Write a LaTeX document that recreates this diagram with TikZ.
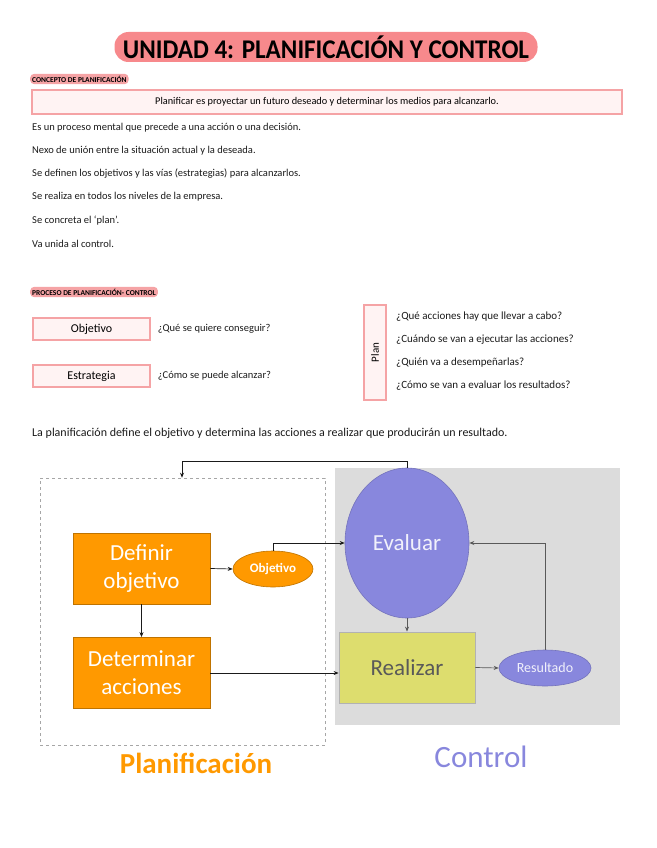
\documentclass[tikz,border=0pt]{standalone}
\usepackage{fontspec}
\setmainfont{Carlito}
\usepackage{graphicx}
\usetikzlibrary{arrows.meta,positioning,shapes.geometric}
\definecolor{cPink}{HTML}{F7898C}
\definecolor{cRose}{HTML}{F5A3A5}
\definecolor{cBlush}{HTML}{FFF3F3}
\definecolor{cOrange}{HTML}{FF9900}
\definecolor{cPeri}{HTML}{8887DD}
\definecolor{cLime}{HTML}{DDDD6E}
\definecolor{cGrey}{HTML}{DCDCDC}
\definecolor{cInk}{HTML}{1A1A1A}
\tikzset{
  >={Stealth[length=5pt,width=4pt]},
  note/.style={anchor=west,inner sep=0pt,text=cInk,font=\fontsize{10.5}{12}\selectfont},
  ask/.style={note,font=\fontsize{11}{13}\selectfont},
  tag/.style={anchor=west,fill=cRose,rounded corners=4pt,inner sep=2pt,
              font=\bfseries\fontsize{7.5}{8}\selectfont},
  pbox/.style={draw=cRose,fill=cBlush,line width=1.2pt,inner sep=0pt},
  obox/.style={draw=cOrange!75!black,fill=cOrange,text=white,align=center,line width=0.8pt,
               minimum width=137pt,minimum height=71pt,font=\fontsize{23}{28}\selectfont},
  oval/.style={ellipse,inner sep=0pt,line width=0.6pt},
  ar/.style={->,line width=0.7pt,cInk},
  gar/.style={->,line width=0.7pt,gray!70!black},
}

\begin{document}
\begin{tikzpicture}[x=1pt,y=-1pt]
\useasboundingbox (0,0) rectangle (656,848);
% titulo
\node[fill=cPink,rounded corners=14pt,minimum width=423pt,minimum height=30pt,inner sep=0pt] (title) at (326,47)
  {\scalebox{0.93}[1]{\bfseries\fontsize{27}{30}\selectfont UNIDAD 4: PLANIFICACIÓN Y CONTROL}};

% concepto
\node[tag] (tconc) at (30,79) {CONCEPTO DE PLANIFICACIÓN};
\node[pbox,minimum width=590pt,minimum height=24pt] (def) at (327,102)
  {\fontsize{10.3}{12}\selectfont Planificar es proyectar un futuro deseado y determinar los medios para alcanzarlo.};
\node[note] (n1) at (32,128) {Es un proceso mental que precede a una acción o una decisión.};
\node[note] (n2) at (32,151) {Nexo de unión entre la situación actual y la deseada.};
\node[note] (n3) at (32,174) {Se definen los objetivos y las vías (estrategias) para alcanzarlos.};
\node[note] (n4) at (32,197) {Se realiza en todos los niveles de la empresa.};
\node[note] (n5) at (32,221) {Se concreta el `plan'.};
\node[note] (n6) at (32,244) {Va unida al control.};

% proceso
\node[tag] (tproc) at (30,292) {PROCESO DE PLANIFICACIÓN- CONTROL};
\node[pbox,minimum width=117pt,minimum height=22pt] (obj) at (91.5,329) {\fontsize{12}{14}\selectfont Objetivo};
\node[ask,right=7pt of obj,font=\fontsize{10.5}{12}\selectfont] (qobj) {¿Qué se quiere conseguir?};
\node[pbox,minimum width=117pt,minimum height=22pt] (est) at (91.5,376) {\fontsize{12}{14}\selectfont Estrategia};
\node[ask,right=7pt of est,font=\fontsize{10.5}{12}\selectfont] (qest) {¿Cómo se puede alcanzar?};
\node[pbox,minimum width=22pt,minimum height=95pt] (plan) at (375,352.5)
  {\rotatebox{90}{\fontsize{11}{13}\selectfont Plan}};
\node[ask] (q1) at (396,317) {¿Qué acciones hay que llevar a cabo?};
\node[ask] (q2) at (396,340) {¿Cuándo se van a ejecutar las acciones?};
\node[ask] (q3) at (396,363) {¿Quién va a desempeñarlas?};
\node[ask] (q4) at (396,386) {¿Cómo se van a evaluar los resultados?};
\node[note,font=\fontsize{12}{14}\selectfont] (resumen) at (32,433)
  {La planificación define el objetivo y determina las acciones a realizar que producirán un resultado.};

% esquema
\node[fill=cGrey,minimum width=285pt,minimum height=257pt,inner sep=0pt] (ctrl) at (477.5,596.5) {};
\node[draw=gray!70,dashed,line width=0.6pt,minimum width=285pt,minimum height=267pt,inner sep=0pt] (plani) at (182.5,611.5) {};
\node[obox] (defi) at (141.5,568.5) {Definir\\objetivo};
\node[obox] (dete) at (141.5,673) {Determinar\\acciones};
\node[oval,draw=cOrange!75!black,fill=cOrange,text=white,minimum width=80pt,minimum height=36pt,
      font=\bfseries\fontsize{13}{15}\selectfont] (objo) at (273,569) {Objetivo};
\node[oval,draw=cPeri!85!black,fill=cPeri,text=white!88!cPeri,minimum width=124pt,minimum height=150pt,
      font=\fontsize{23}{26}\selectfont] (eval) at (407,543) {Evaluar};
\node[draw=gray!60,fill=cLime,text=black!65,minimum width=136pt,minimum height=71pt,line width=0.8pt,
      font=\fontsize{23}{26}\selectfont] (real) at (407,667.5) {Realizar};
\node[oval,draw=cPeri!85!black,fill=cPeri,text=white!88!cPeri,minimum width=92pt,minimum height=36pt,
      font=\fontsize{14}{16}\selectfont] (resu) at (545,668) {Resultado};
\node[text=cOrange,font=\bfseries\fontsize{29}{32}\selectfont] (lplan) at (196,763) {Planificación};
\node[text=cPeri,font=\fontsize{31}{34}\selectfont] (lctrl) at (481,757) {Control};

\coordinate (fb) at (182,461);
\draw[ar] (defi.east) -- (objo.west);
\draw[ar] (objo.north) |- (eval.west);
\draw[ar] (defi.south) -- (dete.north);
\draw[ar] (dete.east) -- (dete.east -| real.west);
\draw[gar] (eval.south) -- (real.north);
\draw[gar] (real.east) -- (resu.west);
\draw[gar] (resu.north) |- (eval.east);
\draw[ar] (eval.north) |- (fb) -- (fb |- plani.north);
\end{tikzpicture}
\end{document}
